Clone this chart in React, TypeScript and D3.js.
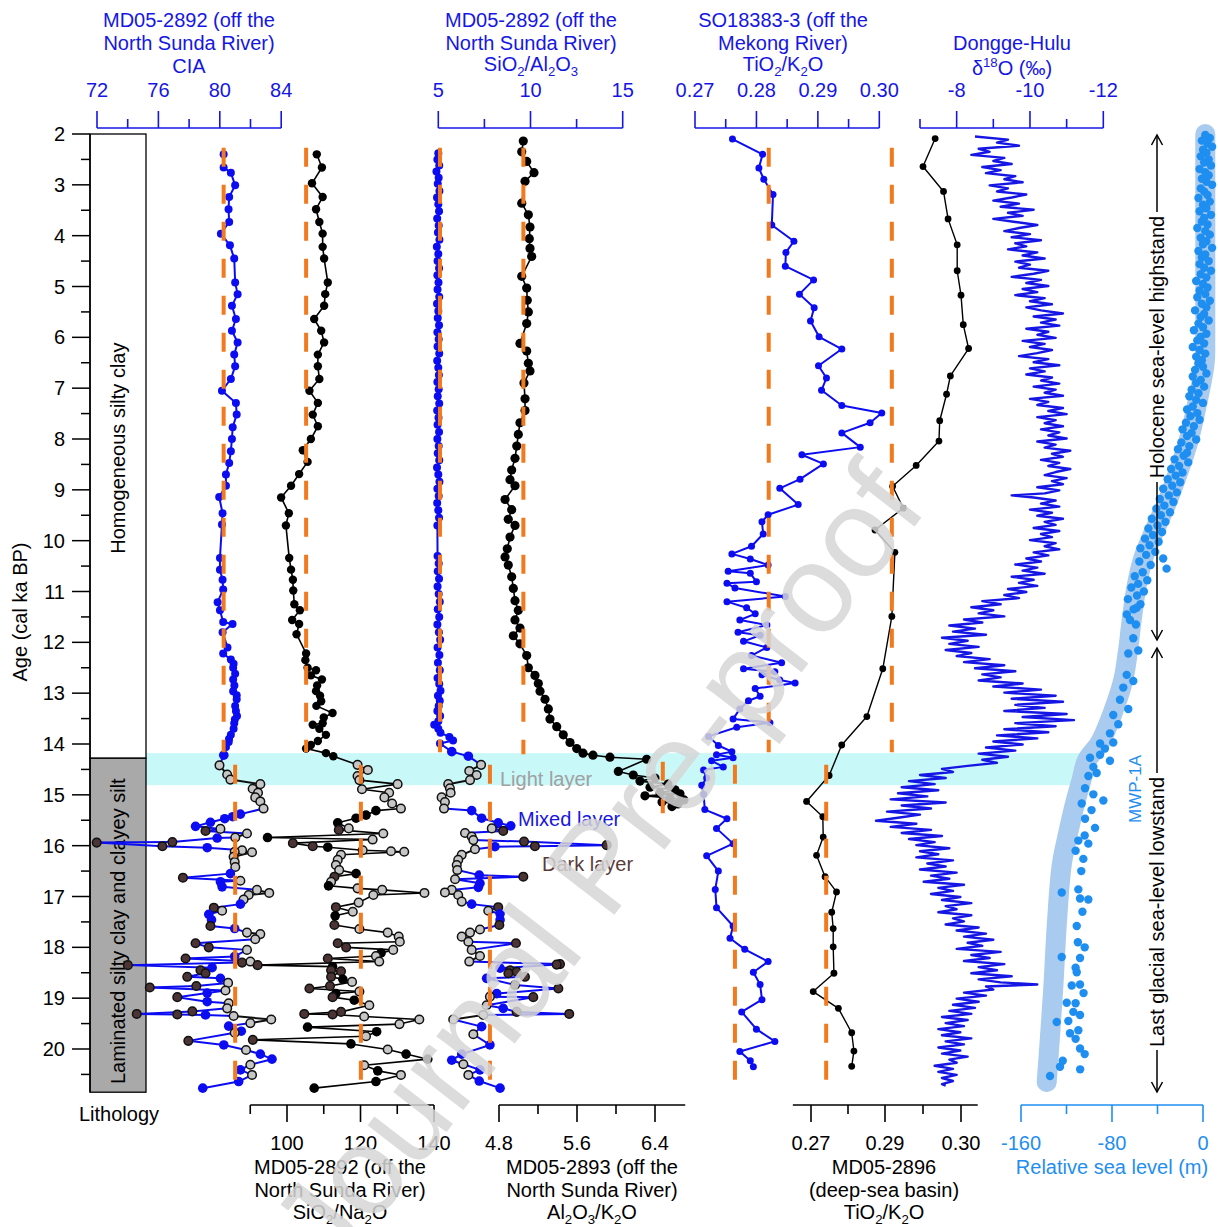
import React from "react";
import * as d3 from "d3";

type P = [number, number];
type G = [number, number, string];

// ---------------- AXIS TICKS ----------------
const AGE_MAJOR = [2, 3, 4, 5, 6, 7, 8, 9, 10, 11, 12, 13, 14, 15, 16, 17, 18, 19, 20];
const AGE_MINOR = [2.5, 3.5, 4.5, 5.5, 6.5, 7.5, 8.5, 9.5, 10.5, 11.5, 12.5, 13.5, 14.5, 15.5, 16.5, 17.5, 18.5, 19.5, 20.5];
const CIA_MAJOR = [72, 76, 80, 84];
const CIA_MINOR = [74, 78, 82];
const SINA_MAJOR = [100, 120, 140];
const SINA_MINOR = [90, 110, 130];
const SIAL_MAJOR = [5, 10, 15];
const SIAL_MINOR = [7.5, 12.5];
const ALK_MAJOR = [4.8, 5.6, 6.4];
const ALK_MINOR = [5.2, 6.0];
const TISO_MAJOR = [0.27, 0.28, 0.29, 0.3];
const TISO_MINOR = [0.275, 0.285, 0.295];
const TIMD_MAJOR = [0.27, 0.29, 0.3];
const TIMD_MINOR = [0.28, 0.295];
const D18_MAJOR = [-8, -10, -12];
const D18_MINOR = [-7, -9, -11];
const SL_MAJOR = [-160, -80, 0];
const SL_MINOR = [-120, -40];

// ---------------- DATA ----------------
// MD05-2892 CIA, Holocene (age ka, CIA)
const CIA_HOLO: P[] = [[2.40,80.25],[2.66,80.25],[2.76,80.72],[3.01,81.0],[3.24,80.61],[3.48,80.57],[3.73,80.61],[3.96,80.07],[4.19,80.66],[4.45,80.94],[4.92,81.0],[5.15,81.16],[5.38,80.79],[5.64,81.05],[5.87,80.79],[6.10,81.16],[6.34,80.94],[6.57,81.0],[6.82,80.72],[7.05,80.14],[7.29,81.05],[7.52,81.10],[7.77,80.84],[8.00,80.79],[8.24,80.72],[8.47,80.61],[8.70,80.40],[8.92,80.40],[9.14,79.96],[9.46,80.18],[9.68,80.14],[10.34,80.01],[10.57,80.01],[10.77,80.18],[10.96,80.22],[11.21,79.86],[11.37,80.01],[11.60,80.22],[11.64,80.83],[11.80,80.18],[12.10,80.5],[12.22,80.22],[12.34,80.72],[12.42,80.9],[12.50,80.87],[12.62,81.0],[12.73,80.87],[12.85,80.95],[12.96,80.87],[13.04,81.1],[13.12,81.10],[13.25,81.0],[13.35,81.05],[13.45,81.12],[13.52,80.98],[13.59,80.94],[13.70,80.9],[13.82,80.72],[13.90,80.6],[13.96,80.58],[14.06,80.4]];
// glacial: m = mixed layer, l = light layer, d = dark layer
const CIA_GLAC: G[] = [[14.22,80.26,'m'],[14.42,79.98,'l'],[14.60,80.48,'l'],[14.70,80.69,'l'],[14.79,82.64,'l'],[14.88,82.14,'l'],[14.96,82.49,'l'],[15.05,82.31,'l'],[15.13,82.64,'l'],[15.27,82.85,'l'],[15.38,81.34,'m'],[15.43,80.84,'m'],[15.47,80.32,'m'],[15.54,79.39,'m'],[15.62,78.42,'m'],[15.67,80.04,'l'],[15.71,79.07,'d'],[15.76,81.77,'l'],[15.84,81.01,'l'],[15.85,79.83,'m'],[15.93,76.91,'d'],[15.94,71.98,'d'],[16.01,76.26,'d'],[16.04,79.18,'m'],[16.09,81.45,'l'],[16.12,80.97,'l'],[16.13,82.1,'l'],[16.22,80.9,'l'],[16.32,80.97,'l'],[16.42,81.01,'l'],[16.55,80.69,'m'],[16.63,77.6,'d'],[16.69,81.34,'l'],[16.71,80.04,'m'],[16.81,80.15,'m'],[16.87,82.42,'l'],[16.93,83.22,'l'],[16.97,81.88,'l'],[17.06,81.55,'l'],[17.15,81.34,'m'],[17.22,79.61,'d'],[17.28,80.15,'l'],[17.35,79.28,'m'],[17.46,79.46,'m'],[17.58,79.39,'d'],[17.63,80.97,'m'],[17.71,81.77,'l'],[17.74,82.64,'l'],[17.84,82.31,'l'],[17.92,78.42,'d'],[18.0,79.28,'d'],[18.05,81.77,'l'],[18.18,80.97,'m'],[18.22,77.77,'d'],[18.28,81.99,'l'],[18.30,81.45,'d'],[18.35,74.01,'d'],[18.40,79.5,'m'],[18.45,78.74,'d'],[18.51,79.07,'d'],[18.58,77.88,'d'],[18.61,80.04,'m'],[18.70,80.54,'l'],[18.76,78.47,'d'],[18.79,75.44,'d'],[18.85,80.37,'l'],[18.90,79.18,'m'],[18.98,77.23,'d'],[19.07,79.18,'m'],[19.10,80.58,'l'],[19.20,80.48,'l'],[19.26,78.21,'d'],[19.31,74.59,'d'],[19.32,77.23,'d'],[19.33,79.07,'m'],[19.35,80.9,'l'],[19.42,83.35,'l'],[19.49,81.99,'l'],[19.55,80.58,'m'],[19.65,81.4,'m'],[19.68,80.97,'l'],[19.84,77.95,'d'],[19.92,80.26,'m'],[20.02,81.71,'l'],[20.10,82.64,'m'],[20.20,83.4,'m'],[20.31,81.99,'l'],[20.41,81.34,'m'],[20.51,82.1,'l'],[20.64,81.23,'m'],[20.77,78.89,'m']];

// MD05-2892 SiO2/Na2O
const SINA_HOLO: P[] = [[2.40,108.1],[2.66,109.5],[2.97,106.8],[3.24,109.7],[3.48,107.9],[3.73,108.8],[3.96,109.7],[4.22,109.7],[4.45,110.1],[4.92,111.1],[5.15,110.4],[5.38,110.1],[5.64,107.4],[5.87,109.3],[6.10,110.1],[6.34,108.4],[6.57,108.4],[6.82,108.8],[7.05,106.1],[7.29,108.4],[7.52,107.0],[7.75,108.4],[8.0,106.5],[8.22,104.3],[8.45,105.6],[8.69,103.3],[8.92,101.1],[9.15,98.4],[9.46,100.5],[9.70,99.7],[10.34,100.6],[10.57,101.1],[10.77,101.6],[10.98,101.7],[11.25,102.0],[11.37,103.5],[11.56,101.4],[11.64,103.3],[11.84,102.6],[12.22,105.2],[12.35,105.0],[12.50,105.6],[12.55,107.9],[12.65,106.5],[12.73,109.5],[12.85,108.2],[12.96,107.9],[13.05,109.0],[13.16,109.3],[13.25,108.0],[13.39,112.4],[13.48,110.0],[13.59,109.7],[13.62,107.0],[13.70,108.8],[13.82,110.6],[13.94,108.4],[14.02,106.5],[14.09,105.2],[14.18,110.6],[14.24,112.6]];
const SINA_GLAC: G[] = [[14.41,119.2,'l'],[14.51,122.0,'l'],[14.63,119.2,'l'],[14.71,119.7,'l'],[14.79,130.1,'l'],[14.89,120.4,'l'],[14.96,127.8,'l'],[15.05,126.5,'l'],[15.17,128.6,'l'],[15.27,131.0,'l'],[15.31,124.2,'m'],[15.40,121.5,'m'],[15.46,118.8,'m'],[15.55,113.8,'m'],[15.66,116.8,'l'],[15.69,114.1,'d'],[15.76,126.2,'l'],[15.84,94.7,'m'],[15.88,123.3,'l'],[15.95,101.6,'d'],[16.01,107.0,'d'],[16.03,111.1,'m'],[16.09,120.6,'l'],[16.11,128.3,'l'],[16.12,131.9,'l'],[16.18,114.7,'l'],[16.28,113.8,'l'],[16.38,113.3,'l'],[16.48,114.2,'l'],[16.55,118.8,'m'],[16.61,112.9,'d'],[16.71,112.0,'l'],[16.79,111.3,'m'],[16.84,119.2,'l'],[16.87,125.9,'l'],[16.93,137.4,'l'],[16.97,123.5,'l'],[17.12,119.5,'l'],[17.21,113.3,'d'],[17.30,117.9,'l'],[17.38,113.1,'m'],[17.56,112.9,'d'],[17.64,119.7,'l'],[17.71,127.4,'l'],[17.79,130.4,'l'],[17.89,130.7,'l'],[17.92,113.8,'d'],[18.00,116.1,'d'],[18.05,128.9,'l'],[18.11,125.6,'m'],[18.17,124.2,'l'],[18.22,111.1,'d'],[18.28,125.1,'l'],[18.35,92.0,'d'],[18.38,112.4,'m'],[18.45,112.0,'d'],[18.47,114.7,'d'],[18.58,112.0,'d'],[18.63,115.2,'m'],[18.68,117.7,'l'],[18.76,111.7,'d'],[18.81,106.1,'d'],[18.87,119.7,'l'],[18.91,113.3,'m'],[18.98,112.4,'d'],[19.04,118.3,'m'],[19.14,122.4,'l'],[19.27,114.7,'d'],[19.31,104.7,'d'],[19.32,112.4,'d'],[19.36,121.0,'l'],[19.42,136.0,'l'],[19.51,130.6,'l'],[19.57,105.6,'m'],[19.66,124.4,'m'],[19.75,121.5,'l'],[19.82,90.7,'d'],[19.90,117.4,'m'],[20.01,127.4,'l'],[20.10,132.4,'m'],[20.20,138.3,'m'],[20.32,121.0,'l'],[20.43,124.7,'m'],[20.51,131.0,'l'],[20.64,124.2,'m'],[20.77,107.4,'m']];

// MD05-2892 SiO2/Al2O3
const SIAL_HOLO: P[] = [[2.38,5.0],[2.50,4.95],[2.62,5.05],[2.74,4.9],[2.86,5.02],[2.98,4.97],[3.12,5.06],[3.25,4.93],[3.38,5.0],[3.52,5.04],[3.66,4.94],[3.80,5.02],[3.94,4.98],[4.08,5.06],[4.22,4.92],[4.36,5.0],[4.50,4.96],[4.64,5.04],[4.78,4.95],[4.92,5.01],[5.06,4.96],[5.20,5.05],[5.34,4.93],[5.48,5.0],[5.62,4.97],[5.76,5.04],[5.90,4.95],[6.04,5.02],[6.18,4.96],[6.32,5.05],[6.46,4.94],[6.60,5.0],[6.74,5.03],[6.88,4.95],[7.02,5.02],[7.16,4.97],[7.30,5.05],[7.44,4.94],[7.58,5.01],[7.72,4.96],[7.86,5.04],[8.00,4.95],[8.14,5.02],[8.28,4.97],[8.42,5.05],[8.56,4.93],[8.70,5.0],[8.84,5.06],[8.98,4.95],[9.12,5.02],[9.26,4.94],[9.40,5.0],[9.55,5.04],[9.70,4.95],[10.30,4.96],[10.45,5.02],[10.60,4.97],[10.75,5.04],[10.90,4.96],[11.05,5.02],[11.20,5.08],[11.35,4.97],[11.50,5.05],[11.65,4.95],[11.80,5.03],[11.95,5.1],[12.10,4.96],[12.25,5.06],[12.40,4.98],[12.55,5.08],[12.70,4.96],[12.82,5.05],[12.95,5.12],[13.05,4.98],[13.15,5.08],[13.25,5.02],[13.35,4.95],[13.45,5.1],[13.55,5.0],[13.62,4.78],[13.70,5.0],[13.78,5.12],[13.86,5.6],[13.93,5.8],[13.99,5.09]];
const SIAL_GLAC: G[] = [[14.15,5.73,'m'],[14.24,6.63,'m'],[14.41,7.32,'l'],[14.53,6.68,'l'],[14.61,7.08,'l'],[14.71,6.72,'l'],[14.79,5.54,'l'],[14.87,5.63,'l'],[14.96,5.67,'l'],[15.05,5.18,'l'],[15.14,5.36,'l'],[15.27,5.31,'l'],[15.31,6.81,'m'],[15.46,7.35,'m'],[15.55,8.25,'m'],[15.61,8.93,'m'],[15.66,7.90,'l'],[15.71,8.52,'d'],[15.75,6.45,'l'],[15.82,6.81,'l'],[15.89,6.90,'l'],[15.92,9.65,'d'],[15.99,14.13,'d'],[16.01,10.24,'d'],[16.02,8.07,'m'],[16.07,6.99,'l'],[16.18,6.27,'l'],[16.28,6.08,'l'],[16.38,6.0,'l'],[16.48,6.03,'l'],[16.58,7.22,'m'],[16.61,9.61,'d'],[16.66,5.91,'l'],[16.74,7.26,'m'],[16.82,7.17,'m'],[16.87,5.73,'l'],[16.92,5.36,'l'],[16.97,6.08,'l'],[17.10,6.27,'l'],[17.15,6.81,'m'],[17.21,8.25,'d'],[17.28,7.71,'l'],[17.34,8.35,'m'],[17.46,8.35,'m'],[17.56,8.31,'d'],[17.65,7.26,'l'],[17.71,6.72,'l'],[17.79,6.27,'l'],[17.89,6.63,'l'],[17.92,9.21,'d'],[18.05,6.81,'l'],[18.17,7.26,'l'],[18.28,6.68,'l'],[18.33,11.60,'d'],[18.34,11.42,'d'],[18.41,8.35,'m'],[18.45,8.89,'d'],[18.48,9.25,'d'],[18.51,8.80,'d'],[18.58,9.70,'d'],[18.61,7.62,'m'],[18.74,9.16,'d'],[18.81,11.51,'d'],[18.91,8.17,'m'],[18.97,7.80,'l'],[18.98,10.15,'d'],[19.14,7.62,'l'],[19.20,8.52,'m'],[19.27,9.25,'d'],[19.31,12.10,'d'],[19.33,7.44,'l'],[19.42,5.81,'l'],[19.56,7.35,'m'],[19.71,6.90,'l'],[19.92,7.80,'m'],[20.10,6.27,'m'],[20.22,5.73,'m'],[20.30,6.36,'l'],[20.41,7.26,'m'],[20.51,6.63,'l'],[20.63,7.22,'m'],[20.77,8.35,'m']];

// MD05-2893 Al2O3/K2O
const ALK: P[] = [[2.14,5.049],[2.35,5.033],[2.54,5.084],[2.76,5.159],[2.93,5.067],[3.36,5.033],[3.59,5.101],[3.83,5.118],[4.06,5.111],[4.25,5.118],[4.41,5.135],[4.80,5.033],[5.03,5.084],[5.27,5.090],[5.50,5.101],[5.73,5.084],[6.12,5.015],[6.27,5.084],[6.51,5.101],[6.66,5.118],[6.90,5.056],[7.21,5.067],[7.44,5.067],[7.68,5.015],[7.91,4.998],[8.14,4.982],[8.38,4.964],[8.61,4.930],[8.80,4.913],[8.92,4.964],[9.19,4.862],[9.39,4.930],[9.58,4.895],[9.70,4.964],[9.93,4.913],[10.16,4.885],[10.32,4.862],[10.48,4.895],[10.71,4.930],[10.94,4.947],[11.18,4.964],[11.37,4.998],[11.56,4.964],[11.72,5.015],[11.87,4.947],[12.03,5.015],[12.26,5.084],[12.50,5.101],[12.65,5.169],[12.81,5.203],[12.96,5.221],[13.12,5.272],[13.31,5.306],[13.51,5.323],[13.66,5.392],[13.82,5.459],[13.97,5.528],[14.09,5.597],[14.18,5.662],[14.22,5.764],[14.26,5.938],[14.30,6.315],[14.54,6.024],[14.61,6.177],[14.67,6.400],[14.73,6.246],[14.79,6.533],[14.85,6.349],[14.90,6.605],[14.96,6.451],[14.98,6.656],[15.02,6.297],[15.06,6.554],[15.10,6.697],[15.14,6.472],[15.18,6.636],[15.23,6.574]];

// SO18383-3 TiO2/K2O
const TISO: P[] = [[2.10,0.2761],[2.40,0.2810],[2.67,0.2804],[2.89,0.2812],[3.19,0.2827],[3.79,0.2825],[4.11,0.2861],[4.33,0.2848],[4.60,0.2847],[4.87,0.2893],[5.15,0.2870],[5.42,0.2894],[5.68,0.2888],[5.99,0.2902],[6.23,0.2939],[6.56,0.2901],[6.80,0.2914],[7.04,0.2906],[7.34,0.2939],[7.49,0.3004],[7.68,0.2985],[7.88,0.2939],[8.16,0.2969],[8.31,0.2874],[8.49,0.2909],[8.79,0.2871],[8.97,0.2838],[9.29,0.2868],[9.49,0.2819],[9.63,0.2809],[9.87,0.2811],[10.11,0.2792],[10.26,0.2760],[10.36,0.2790],[10.48,0.2819],[10.60,0.2754],[10.64,0.2790],[10.81,0.2800],[10.84,0.2752],[10.93,0.2765],[11.10,0.2847],[11.20,0.2752],[11.32,0.2784],[11.44,0.2798],[11.56,0.2773],[11.66,0.2817],[11.80,0.2770],[11.86,0.2806],[11.98,0.2779],[12.10,0.2817],[12.26,0.2792],[12.40,0.2841],[12.52,0.2779],[12.58,0.2830],[12.64,0.2809],[12.74,0.2838],[12.80,0.2863],[12.91,0.2798],[13.06,0.2806],[13.15,0.2787],[13.31,0.2773],[13.51,0.2762],[13.58,0.2822],[13.67,0.2768],[13.85,0.2722],[14.03,0.2738],[14.15,0.2760],[14.21,0.2735],[14.27,0.2762],[14.33,0.2727],[14.45,0.2746],[14.51,0.2714],[14.67,0.2719],[14.81,0.2711],[14.99,0.2714],[15.29,0.2716],[15.47,0.2752],[15.66,0.2735],[15.96,0.2762],[16.20,0.2719],[16.50,0.2738],[16.86,0.2733],[17.22,0.2735],[17.58,0.2762],[17.82,0.2757],[18.04,0.2781],[18.28,0.2819],[18.49,0.2795],[18.73,0.2806],[19.03,0.2809],[19.27,0.2776],[19.61,0.2800],[19.85,0.2830],[20.05,0.2773],[20.23,0.2790],[20.35,0.2795]];

// MD05-2896 TiO2/K2O (deep-sea basin)
const TIMD: P[] = [[2.09,0.2966],[2.64,0.2950],[3.13,0.2977],[3.67,0.2983],[4.18,0.2995],[4.69,0.2995],[5.17,0.3000],[5.75,0.3003],[6.22,0.3010],[6.76,0.2986],[7.12,0.2981],[7.64,0.2972],[8.04,0.2971],[8.52,0.2941],[8.93,0.2910],[9.36,0.2924],[9.79,0.2873],[10.23,0.2913],[11.49,0.2909],[12.52,0.2894],[13.46,0.2851],[14.02,0.2783],[14.62,0.2749],[15.13,0.2688],[15.43,0.2732],[15.83,0.2733],[16.19,0.2715],[16.61,0.2738],[16.91,0.2769],[17.31,0.2756],[17.63,0.2760],[17.99,0.2760],[18.51,0.2762],[18.87,0.2706],[19.20,0.2774],[19.68,0.2810],[20.04,0.2816],[20.34,0.2810]];

// Dongge-Hulu d18O
const D18: P[] = [[2.05,-8.5],[2.11,-9.4],[2.17,-9.1],[2.23,-9.7],[2.29,-8.6],[2.35,-8.9],[2.41,-8.4],[2.47,-9.3],[2.53,-9.0],[2.59,-9.5],[2.65,-8.7],[2.71,-9.2],[2.77,-8.8],[2.83,-9.6],[2.89,-9.3],[2.95,-9.8],[3.01,-8.9],[3.07,-9.4],[3.13,-9.1],[3.19,-9.9],[3.25,-9.5],[3.31,-9.0],[3.37,-9.7],[3.43,-9.2],[3.49,-10.1],[3.55,-9.4],[3.61,-9.8],[3.67,-9.0],[3.73,-9.6],[3.79,-10.2],[3.85,-9.7],[3.91,-9.3],[3.97,-10.0],[4.03,-9.5],[4.09,-10.3],[4.15,-9.6],[4.21,-9.9],[4.27,-9.4],[4.33,-10.2],[4.39,-9.8],[4.45,-10.4],[4.51,-9.6],[4.57,-10.0],[4.63,-9.7],[4.69,-10.5],[4.75,-10.1],[4.81,-9.5],[4.87,-10.3],[4.93,-9.9],[4.99,-10.5],[5.05,-9.8],[5.11,-10.2],[5.17,-9.6],[5.23,-10.4],[5.29,-10.0],[5.35,-10.6],[5.41,-9.9],[5.47,-10.3],[5.53,-10.9],[5.59,-10.1],[5.65,-10.7],[5.71,-10.3],[5.77,-10.8],[5.83,-9.9],[5.89,-10.5],[5.95,-10.2],[6.01,-10.7],[6.07,-9.8],[6.13,-10.4],[6.19,-10.0],[6.25,-10.6],[6.31,-10.2],[6.37,-9.7],[6.43,-10.5],[6.49,-10.1],[6.55,-10.8],[6.61,-10.0],[6.67,-10.4],[6.73,-9.9],[6.79,-10.6],[6.85,-10.3],[6.91,-10.8],[6.97,-10.1],[7.03,-10.7],[7.09,-10.4],[7.15,-10.9],[7.21,-10.0],[7.27,-10.5],[7.33,-10.2],[7.39,-10.9],[7.45,-10.5],[7.51,-11.0],[7.57,-10.2],[7.63,-10.7],[7.69,-10.4],[7.75,-10.9],[7.81,-10.3],[7.87,-10.8],[7.93,-10.5],[7.99,-11.0],[8.05,-10.2],[8.11,-10.7],[8.17,-10.4],[8.23,-11.1],[8.29,-10.6],[8.35,-10.9],[8.41,-10.3],[8.47,-10.8],[8.53,-10.5],[8.59,-11.1],[8.65,-10.7],[8.71,-10.4],[8.77,-11.0],[8.83,-10.6],[8.89,-10.9],[8.95,-10.2],[9.01,-10.8],[9.07,-10.4],[9.11,-9.5],[9.15,-10.1],[9.21,-10.7],[9.27,-10.3],[9.33,-10.8],[9.39,-10.0],[9.45,-10.6],[9.51,-10.2],[9.57,-10.9],[9.63,-10.4],[9.69,-10.7],[9.75,-10.1],[9.81,-10.8],[9.87,-10.3],[9.93,-10.6],[9.99,-10.0],[10.05,-10.7],[10.11,-10.4],[10.17,-10.8],[10.23,-10.1],[10.29,-10.5],[10.35,-9.9],[10.41,-10.3],[10.47,-9.6],[10.53,-10.2],[10.59,-9.8],[10.65,-10.4],[10.71,-9.5],[10.77,-10.1],[10.83,-9.7],[10.89,-10.2],[10.95,-9.4],[11.01,-9.9],[11.07,-9.3],[11.13,-9.7],[11.19,-8.7],[11.25,-9.2],[11.31,-8.4],[11.37,-9.0],[11.43,-8.6],[11.49,-9.3],[11.55,-8.2],[11.61,-8.7],[11.67,-7.8],[11.73,-8.5],[11.79,-7.9],[11.85,-8.8],[11.91,-7.6],[11.97,-8.3],[12.03,-7.8],[12.09,-8.6],[12.15,-7.7],[12.21,-8.4],[12.27,-8.0],[12.33,-8.9],[12.39,-8.2],[12.45,-9.3],[12.51,-8.5],[12.57,-9.6],[12.63,-8.7],[12.69,-9.2],[12.75,-8.6],[12.81,-9.8],[12.87,-9.0],[12.93,-10.3],[12.99,-9.3],[13.05,-10.7],[13.11,-9.5],[13.17,-10.9],[13.23,-9.6],[13.29,-10.4],[13.35,-9.3],[13.41,-11.0],[13.47,-9.8],[13.53,-11.2],[13.59,-9.6],[13.65,-10.7],[13.71,-9.3],[13.77,-10.5],[13.83,-9.1],[13.89,-10.2],[13.95,-9.0],[14.01,-9.8],[14.07,-8.8],[14.13,-9.6],[14.19,-8.6],[14.25,-9.4],[14.31,-8.7],[14.37,-9.1],[14.43,-8.3],[14.49,-7.6],[14.55,-7.9],[14.61,-7.0],[14.67,-7.7],[14.73,-6.7],[14.79,-7.4],[14.85,-6.5],[14.91,-7.5],[14.97,-6.4],[15.03,-7.2],[15.09,-6.2],[15.15,-7.7],[15.21,-6.5],[15.27,-7.3],[15.33,-6.1],[15.39,-7.0],[15.45,-6.4],[15.51,-5.8],[15.57,-6.9],[15.63,-6.2],[15.69,-7.3],[15.75,-6.5],[15.81,-7.6],[15.87,-6.7],[15.93,-7.4],[15.99,-6.9],[16.05,-7.8],[16.11,-7.0],[16.17,-7.5],[16.23,-6.9],[16.29,-7.9],[16.35,-7.2],[16.41,-7.7],[16.47,-7.0],[16.53,-8.0],[16.59,-7.3],[16.65,-7.8],[16.71,-7.1],[16.77,-8.2],[16.83,-7.5],[16.89,-7.9],[16.95,-7.3],[17.01,-8.1],[17.07,-7.6],[17.13,-8.4],[17.19,-7.7],[17.25,-8.0],[17.31,-7.5],[17.37,-8.4],[17.43,-7.9],[17.49,-8.2],[17.55,-7.7],[17.61,-8.6],[17.67,-8.0],[17.73,-8.8],[17.79,-8.2],[17.85,-9.0],[17.91,-8.3],[17.97,-8.7],[18.03,-8.0],[18.09,-9.2],[18.15,-8.4],[18.21,-8.9],[18.27,-8.2],[18.33,-9.3],[18.39,-8.6],[18.45,-9.1],[18.51,-8.4],[18.57,-9.5],[18.63,-8.6],[18.69,-9.2],[18.73,-10.2],[18.77,-8.8],[18.83,-9.0],[18.89,-8.2],[18.95,-8.8],[19.01,-8.0],[19.07,-8.6],[19.13,-7.9],[19.19,-8.5],[19.25,-7.8],[19.31,-8.4],[19.37,-7.6],[19.43,-8.3],[19.49,-7.7],[19.55,-8.2],[19.61,-7.5],[19.67,-8.1],[19.73,-7.6],[19.79,-8.4],[19.85,-7.7],[19.91,-8.2],[19.97,-7.5],[20.03,-8.1],[20.09,-7.6],[20.15,-8.3],[20.21,-7.8],[20.27,-8.0],[20.33,-7.4],[20.39,-7.9],[20.45,-7.5],[20.51,-8.0],[20.57,-7.6],[20.63,-7.9],[20.69,-7.6],[20.72,-7.7]];

// Relative sea level: trend band and observations (age ka, m)
const SL_TREND: P[] = [[2.0,2],[4.0,2],[6.0,2],[6.5,1.5],[7.34,-5.5],[8.06,-13],[8.67,-22],[9.27,-32],[9.87,-44],[10.36,-52.7],[10.89,-58.3],[11.56,-62.7],[12.16,-65.9],[12.76,-70.3],[13.37,-79.1],[13.97,-90.5],[14.33,-102.2],[14.69,-106.6],[15.17,-112.5],[15.77,-118.7],[16.38,-124.2],[17.58,-128.6],[18.79,-131.6],[19.75,-134.5],[20.65,-137.4]];
const SL_OBS: P[] = [[2.02,2],[2.08,6],[2.13,-1],[2.19,4],[2.25,8],[2.31,0],[2.37,3],[2.44,-2],[2.5,5],[2.56,1],[2.62,7],[2.69,-3],[2.75,2],[2.81,5],[2.88,-1],[2.94,3],[3.0,8],[3.07,-2],[3.13,1],[3.2,4],[3.26,-4],[3.33,6],[3.39,0],[3.46,3],[3.52,-3],[3.59,7],[3.65,1],[3.72,-1],[3.78,4],[3.85,-5],[3.91,2],[3.98,6],[4.04,-2],[4.11,3],[4.17,0],[4.24,8],[4.3,-4],[4.37,2],[4.43,-1],[4.5,5],[4.56,-3],[4.63,1],[4.69,7],[4.76,-2],[4.82,3],[4.89,-6],[4.95,0],[5.02,4],[5.08,-3],[5.15,2],[5.21,-5],[5.28,6],[5.34,-1],[5.41,3],[5.47,-7],[5.54,1],[5.6,-2],[5.67,5],[5.73,-4],[5.8,0],[5.86,-8],[5.93,3],[5.99,-2],[6.06,-5],[6.12,1],[6.19,-9],[6.25,-3],[6.32,2],[6.38,-6],[6.45,-1],[6.51,-4],[6.58,0],[6.64,-7],[6.71,3],[6.77,-9],[6.84,-2],[6.9,-6],[6.97,1],[7.03,-10],[7.1,-4],[7.16,-12],[7.23,-6],[7.29,0],[7.36,-9],[7.42,-14],[7.49,-5],[7.55,-11],[7.62,-3],[7.68,-15],[7.75,-8],[7.81,-18],[7.88,-10],[7.94,-14],[8.01,-6],[8.07,-19],[8.14,-12],[8.2,-22],[8.27,-14],[8.33,-17],[8.4,-25],[8.46,-13],[8.53,-21],[8.59,-28],[8.66,-18],[8.72,-24],[8.79,-31],[8.85,-20],[8.92,-27],[8.98,-35],[9.05,-23],[9.11,-30],[9.18,-38],[9.24,-26],[9.31,-34],[9.37,-41],[9.44,-29],[9.5,-37],[9.57,-45],[9.63,-33],[9.7,-40],[9.76,-48],[9.83,-36],[9.89,-44],[9.96,-51],[10.02,-39],[10.09,-47],[10.15,-55],[10.22,-42],[10.28,-50],[10.35,-35],[10.41,-56],[10.48,-46],[10.55,-32],[10.62,-53],[10.7,-60],[10.78,-49],[10.85,-57],[10.92,-63],[11.0,-52],[11.08,-58],[11.15,-66],[11.25,-55],[11.32,-58.3],[11.35,-61],[11.45,-67],[11.56,-64.2],[11.65,-59],[11.92,-61.3],[12.16,-56.9],[12.22,-65.7],[12.64,-67.1],[12.76,-61.3],[12.89,-70.1],[13.13,-73.0],[13.31,-65.7],[13.43,-78.9],[13.61,-74.5],[13.79,-81.8],[13.97,-78.9],[13.99,-90.5],[14.09,-86.2],[14.21,-90.5],[14.27,-99.3],[14.33,-81.8],[14.45,-96.4],[14.57,-93.5],[14.63,-100.8],[14.87,-103.7],[14.99,-96.4],[15.11,-87.6],[15.17,-106.6],[15.3,-98],[15.47,-103.7],[15.65,-94.9],[15.8,-104],[15.9,-109.6],[15.96,-100.8],[16.1,-112],[16.26,-105.2],[16.5,-107],[16.86,-109.6],[16.92,-124.2],[17.04,-108.1],[17.06,-100.8],[17.3,-106],[17.58,-111.0],[17.9,-110],[18.0,-104],[18.19,-124.2],[18.21,-108.1],[18.4,-112],[18.49,-111.0],[18.73,-108.1],[18.75,-115.4],[18.9,-105],[19.09,-119.8],[19.1,-112],[19.27,-114.0],[19.33,-108.1],[19.45,-118.4],[19.47,-128.6],[19.63,-109.6],[19.69,-116.9],[19.8,-112],[19.99,-108.1],[20.1,-104],[20.23,-123.3],[20.35,-125.7],[20.4,-108],[20.53,-134.5]];

// Reference (mean) levels: [value, ageFrom, ageTo]
const REF_CIA = [[80.25, 2.27, 14.16], [81.0, 14.41, 20.65]];
const REF_SINA = [[105.2, 2.27, 14.16], [120.1, 14.41, 20.65]];
const REF_SIAL = [[5.09, 2.27, 14.16], [7.8, 14.41, 20.65]];
const REF_ALK = [[5.05, 2.27, 14.2], [6.48, 14.35, 15.36]];
const REF_TISO = [[0.282, 2.27, 14.16], [0.2765, 14.41, 20.65]];
const REF_TIMD = [[0.2909, 2.27, 14.16], [0.2741, 14.41, 20.65]];

const LITHO = [
  { label: "Homogeneous silty clay", from: 2, to: 14.28, fill: "#ffffff" },
  { label: "Laminated silty clay and clayey silt", from: 14.28, to: 20.85, fill: "#a9a9a9" },
];
const BAND = [14.18, 14.81];

// ---------------- STYLE / SCALES ----------------
const FONT = "'Liberation Sans', Arial, Helvetica, sans-serif";
const BLUE = "#1616e4";
const PTBLUE = "#0c0cf2";
const ORANGE = "#f27a1e";
const SKY = "#1f8ef1";
const LIGHT = "#c6c6c6";
const DARK = "#4c3434";

const y = d3.scaleLinear().domain([2, 20]).range([134, 1049]);
const xCIA = d3.scaleLinear().domain([72, 84]).range([97, 281.2]);
const xSiNa = d3.scaleLinear().domain([90, 140]).range([250.25, 434]);
const xSiAl = d3.scaleLinear().domain([5, 15]).range([438.3, 622.7]);
const xAlK = d3.scaleLinear().domain([4.8, 6.4]).range([499, 655]);
const xTiSO = d3.scaleLinear().domain([0.27, 0.3]).range([695, 879.3]);
const xTiMD = d3.scaleLinear().domain([0.27, 0.29, 0.3]).range([811, 885, 961]);
const xD18 = d3.scaleLinear().domain([-7, -12]).range([920, 1103.3]);
const xSL = d3.scaleLinear().domain([-160, 0]).range([1021, 1203]);

function Rich({ s, x, y: yy, fill = "#000", size = 20, anchor = "middle", transform }: any) {
  const parts = s.split(/([_^]\d+)/).filter((p: string) => p !== "");
  let shift = 0;
  const spans = parts.map((p: string, i: number) => {
    if (p[0] === "_" || p[0] === "^") {
      const target = p[0] === "_" ? 5 : -8;
      const dy = target - shift;
      shift = target;
      return (
        <tspan key={i} dy={dy} fontSize={size * 0.66}>
          {p.slice(1)}
        </tspan>
      );
    }
    const dy = -shift;
    shift = 0;
    return (
      <tspan key={i} dy={dy}>
        {p}
      </tspan>
    );
  });
  return (
    <text x={x} y={yy} fill={fill} fontSize={size} textAnchor={anchor} transform={transform}>
      {spans}
    </text>
  );
}

function Axis({ scale, major, minor, ext, color, top, fmt }: any) {
  const yl = top ? 128 : 1105;
  const dir = top ? -1 : 1;
  const ly = top ? 97 : 1150;
  return (
    <g stroke={color}>
      <line x1={scale(ext[0])} x2={scale(ext[1])} y1={yl} y2={yl} strokeWidth={1.6} />
      {major.map((v: number) => (
        <line key={"M" + v} x1={scale(v)} x2={scale(v)} y1={yl} y2={yl + dir * 17} strokeWidth={1.6} />
      ))}
      {minor.map((v: number) => (
        <line key={"m" + v} x1={scale(v)} x2={scale(v)} y1={yl} y2={yl + dir * 9} strokeWidth={1.6} />
      ))}
      {major.map((v: number) => (
        <text key={"t" + v} x={scale(v)} y={ly} fill={color} stroke="none" textAnchor="middle" fontSize={20}>
          {fmt(v)}
        </text>
      ))}
    </g>
  );
}

function Dashed({ refs, scale }: any) {
  return (
    <g>
      {refs.map((r: number[], i: number) => (
        <line key={i} x1={scale(r[0])} x2={scale(r[0])} y1={y(r[1])} y2={y(r[2])} stroke={ORANGE} strokeWidth={4} strokeDasharray="19 18" />
      ))}
    </g>
  );
}

function Marker({ cx, cy, type, color, r }: any) {
  if (type === "l") return <circle cx={cx} cy={cy} r={4.3} fill={LIGHT} stroke="#111" strokeWidth={1.5} />;
  if (type === "d") return <circle cx={cx} cy={cy} r={4.3} fill={DARK} stroke="#111" strokeWidth={1.5} />;
  if (type === "m") return <circle cx={cx} cy={cy} r={4.8} fill={color} />;
  return <circle cx={cx} cy={cy} r={r} fill={color} />;
}

function Series({ data, scale, color, width = 1.8, r = 4, twoTone = false }: any) {
  const pts = data.map((d: any) => ({ age: d[0], v: d[1], t: d[2] || "h" }));
  const segs = [];
  for (let i = 1; i < pts.length; i++) {
    const a = pts[i - 1], b = pts[i];
    const c = twoTone && a.t === "l" && b.t === "l" ? "#111" : color;
    segs.push(
      <line key={"s" + i} x1={scale(a.v)} y1={y(a.age)} x2={scale(b.v)} y2={y(b.age)} stroke={c} strokeWidth={width} strokeLinecap="round" />
    );
  }
  return (
    <g>
      {segs}
      {pts.map((p: any, i: number) => (
        <Marker key={i} cx={scale(p.v)} cy={y(p.age)} type={p.t} color={color} r={r} />
      ))}
    </g>
  );
}

function Arrow({ x, tip, dir }: any) {
  const b = tip - dir * 10;
  return <path d={`M${x - 5.5},${b} L${x},${tip} L${x + 5.5},${b}`} fill="none" stroke="#000" strokeWidth={1.5} />;
}

export default function App() {
  const ciaAll = [...CIA_HOLO.map((d) => [d[0], d[1], "h"]), ...CIA_GLAC];
  const sinaAll = [...SINA_HOLO.map((d) => [d[0], d[1], "h"]), ...SINA_GLAC];
  const sialAll = [...SIAL_HOLO.map((d) => [d[0], d[1], "h"]), ...SIAL_GLAC];
  const d18Line = d3.line<P>().x((d) => xD18(d[1])).y((d) => y(d[0]));
  const slLine = d3.line<P>().x((d) => xSL(d[1])).y((d) => y(d[0])).curve(d3.curveCatmullRom);
  const f2 = (v: number) => v.toFixed(2);
  const f0 = (v: number) => String(v);

  return (
    <svg width={1218} height={1227} style={{ position: "absolute", left: 0, top: 0, background: "#fff" }} fontFamily={FONT}>
      <rect x={0} y={0} width={1218} height={1227} fill="#fff" />
      {/* light layer band */}
      <rect x={146} y={y(BAND[0])} width={1082 - 146} height={y(BAND[1]) - y(BAND[0])} fill="#c9f8f8" />

      {/* lithology */}
      {LITHO.map((l, i) => (
        <rect key={i} x={90} y={y(l.from)} width={56} height={y(l.to) - y(l.from)} fill={l.fill} stroke="#000" strokeWidth={1.3} />
      ))}
      {LITHO.map((l, i) => {
        const cy = (y(l.from) + y(l.to)) / 2 + (i === 1 ? 6 : 2);
        return (
          <text key={"lt" + i} transform={`translate(125,${cy}) rotate(-90)`} textAnchor="middle" fontSize={20} fill="#000">
            {l.label}
          </text>
        );
      })}
      <text x={119} y={1121} textAnchor="middle" fontSize={20}>Lithology</text>

      {/* age axis */}
      <line x1={90} x2={90} y1={y(2)} y2={y(20.85)} stroke="#000" strokeWidth={1.5} />
      {AGE_MAJOR.map((a) => (
        <g key={"a" + a}>
          <line x1={72} x2={90} y1={y(a)} y2={y(a)} stroke="#000" strokeWidth={1.5} />
          <text x={65} y={y(a) + 7} textAnchor="end" fontSize={20}>{a}</text>
        </g>
      ))}
      {AGE_MINOR.map((a) => (
        <line key={"am" + a} x1={81} x2={90} y1={y(a)} y2={y(a)} stroke="#000" strokeWidth={1.5} />
      ))}
      <text transform={`translate(27,612) rotate(-90)`} textAnchor="middle" fontSize={20}>Age (cal ka BP)</text>

      {/* top axes */}
      <Axis scale={xCIA} major={CIA_MAJOR} minor={CIA_MINOR} ext={[72, 84]} color={BLUE} top fmt={f0} />
      <Axis scale={xSiAl} major={SIAL_MAJOR} minor={SIAL_MINOR} ext={[5, 15]} color={BLUE} top fmt={f0} />
      <Axis scale={xTiSO} major={TISO_MAJOR} minor={TISO_MINOR} ext={[0.27, 0.3]} color={BLUE} top fmt={f2} />
      <Axis scale={xD18} major={D18_MAJOR} minor={D18_MINOR} ext={[-7, -12]} color={BLUE} top fmt={f0} />
      {/* bottom axes */}
      <Axis scale={xSiNa} major={SINA_MAJOR} minor={SINA_MINOR} ext={[90, 140]} color="#000" fmt={f0} />
      <Axis scale={xAlK} major={ALK_MAJOR} minor={ALK_MINOR} ext={[4.8, 6.71]} color="#000" fmt={(v: number) => v.toFixed(1)} />
      <Axis scale={xTiMD} major={TIMD_MAJOR} minor={TIMD_MINOR} ext={[0.2651, 0.3022]} color="#000" fmt={f2} />
      <Axis scale={xSL} major={SL_MAJOR} minor={SL_MINOR} ext={[-160, 0]} color={SKY} fmt={f0} />

      {/* top titles */}
      <g fill={BLUE} fontSize={20} textAnchor="middle">
        <text x={189} y={27}>MD05-2892 (off the</text>
        <text x={189} y={50}>North Sunda River)</text>
        <text x={189} y={73}>CIA</text>
        <text x={531} y={27}>MD05-2892 (off the</text>
        <text x={531} y={50}>North Sunda River)</text>
        <text x={783} y={27}>SO18383-3 (off the</text>
        <text x={783} y={50}>Mekong River)</text>
        <text x={1012} y={50}>Dongge-Hulu</text>
      </g>
      <Rich s="SiO_2/Al_2O_3" x={531} y={71} fill={BLUE} />
      <Rich s="TiO_2/K_2O" x={783} y={71} fill={BLUE} />
      <Rich s="δ^18O (‰)" x={1012} y={75} fill={BLUE} />

      {/* bottom titles */}
      <g fill="#000" fontSize={20} textAnchor="middle">
        <text x={340} y={1174}>MD05-2892 (off the</text>
        <text x={340} y={1197}>North Sunda River)</text>
        <text x={592} y={1174}>MD05-2893 (off the</text>
        <text x={592} y={1197}>North Sunda River)</text>
        <text x={884} y={1174}>MD05-2896</text>
        <text x={884} y={1197}>(deep-sea basin)</text>
      </g>
      <Rich s="SiO_2/Na_2O" x={340} y={1219} />
      <Rich s="Al_2O_3/K_2O" x={592} y={1219} />
      <Rich s="TiO_2/K_2O" x={884} y={1219} />
      <text x={1112} y={1174} fill={SKY} fontSize={20} textAnchor="middle">Relative sea level (m)</text>

      {/* sea level */}
      <path d={slLine(SL_TREND) || ""} fill="none" stroke="#a9cbef" strokeWidth={20} strokeLinecap="round" strokeLinejoin="round" />
      {SL_OBS.map((d, i) => (
        <circle key={"sl" + i} cx={xSL(d[1])} cy={y(d[0])} r={4.2} fill={SKY} />
      ))}

      {/* Dongge */}
      <path d={d18Line(D18) || ""} fill="none" stroke={BLUE} strokeWidth={2.4} strokeLinejoin="round" />

      {/* series */}
      <Series data={ciaAll} scale={xCIA} color={PTBLUE} width={2} r={4} twoTone />
      <Series data={sinaAll} scale={xSiNa} color="#000" width={1.6} r={4.2} />
      <Series data={sialAll} scale={xSiAl} color={PTBLUE} width={2} r={4} twoTone />
      <Series data={ALK} scale={xAlK} color="#000" width={1.6} r={4.6} />
      <Series data={TISO} scale={xTiSO} color={PTBLUE} width={2} r={3.5} />
      <Series data={TIMD} scale={xTiMD} color="#000" width={1.4} r={3.4} />

      {/* reference levels */}
      <Dashed refs={REF_CIA} scale={xCIA} />
      <Dashed refs={REF_SINA} scale={xSiNa} />
      <Dashed refs={REF_SIAL} scale={xSiAl} />
      <Dashed refs={REF_ALK} scale={xAlK} />
      <Dashed refs={REF_TISO} scale={xTiSO} />
      <Dashed refs={REF_TIMD} scale={xTiMD} />

      {/* layer legend */}
      <text x={500} y={786} fontSize={20} fill="#a0a0a0">Light layer</text>
      <text x={518} y={826} fontSize={20} fill={BLUE}>Mixed layer</text>
      <text x={542} y={871} fontSize={20} fill="#5a3b3b">Dark layer</text>

      {/* MWP-1A */}
      <text transform={`translate(1141,789) rotate(-90)`} textAnchor="middle" fontSize={17} fill={SKY}>MWP-1A</text>

      {/* sea-level stand annotations */}
      <g stroke="#000" strokeWidth={1.5}>
        <line x1={1157} x2={1157} y1={135} y2={212} />
        <line x1={1157} x2={1157} y1={482} y2={640} />
        <line x1={1157} x2={1157} y1={648} y2={773} />
        <line x1={1157} x2={1157} y1={1050} y2={1092} />
      </g>
      <Arrow x={1157} tip={135} dir={-1} />
      <Arrow x={1157} tip={640} dir={1} />
      <Arrow x={1157} tip={648} dir={-1} />
      <Arrow x={1157} tip={1092} dir={1} />
      <text transform={`translate(1164,347) rotate(-90)`} textAnchor="middle" fontSize={20}>Holocene sea-level highstand</text>
      <text transform={`translate(1164,912) rotate(-90)`} textAnchor="middle" fontSize={20}>Last glacial sea-level lowstand</text>

      {/* watermark */}
      <text transform={`translate(597,866) rotate(-52.3)`} textAnchor="middle" dominantBaseline="central" fontSize={126} fill="#d6d6d6" opacity={0.85}>
        Journal Pre-proof
      </text>
    </svg>
  );
}
